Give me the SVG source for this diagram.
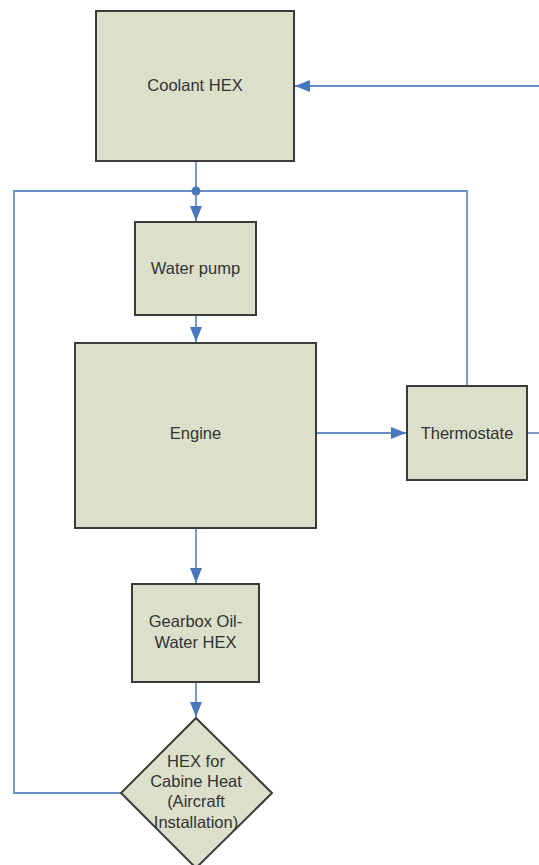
<svg xmlns="http://www.w3.org/2000/svg" width="539" height="865" viewBox="0 0 539 865">
<style>
.box{fill:#dcdfc9;stroke:#3b3b3b;stroke-width:2}
.lbl{font-family:"Liberation Sans",Arial,sans-serif;font-size:16.5px;fill:#333333;text-anchor:middle}
.wire{fill:none;stroke:#6a8fc4;stroke-width:1.8}
</style>
<defs>
<marker id="arr" markerWidth="16" markerHeight="12" refX="15" refY="6" orient="auto" markerUnits="userSpaceOnUse">
<path d="M0,0 L15,6 L0,12 Z" fill="#4877bd"/>
</marker>
</defs>
<rect width="539" height="865" fill="#ffffff"/>
<g id="connectors">
<line class="wire" x1="539" y1="86" x2="295" y2="86" marker-end="url(#arr)"/>
<line class="wire" x1="196" y1="161" x2="196" y2="221" marker-end="url(#arr)"/>
<line class="wire" x1="196" y1="315" x2="196" y2="342" marker-end="url(#arr)"/>
<line class="wire" x1="196" y1="528" x2="196" y2="583" marker-end="url(#arr)"/>
<line class="wire" x1="196" y1="682" x2="196" y2="717" marker-end="url(#arr)"/>
<line class="wire" x1="316" y1="433" x2="406" y2="433" marker-end="url(#arr)"/>
<line class="wire" x1="527" y1="433" x2="539" y2="433"/>
<polyline class="wire" points="121,793 14,793 14,191 467,191 467,386"/>
<circle cx="196" cy="191" r="4.5" fill="#4877bd"/>
</g>
<g id="coolant-hex">
<rect class="box" x="96" y="11" width="198" height="150"/>
<text class="lbl" x="195" y="91">Coolant HEX</text>
</g>
<g id="water-pump">
<rect class="box" x="135" y="222" width="121" height="93"/>
<text class="lbl" x="195.5" y="274">Water pump</text>
</g>
<g id="engine">
<rect class="box" x="75" y="343" width="241" height="185"/>
<text class="lbl" x="195.5" y="439">Engine</text>
</g>
<g id="thermostate">
<rect class="box" x="407" y="386" width="120" height="94"/>
<text class="lbl" x="467" y="439">Thermostate</text>
</g>
<g id="gearbox-hex">
<rect class="box" x="132" y="584" width="127" height="98"/>
<text class="lbl" x="195.5" y="627">Gearbox Oil-</text>
<text class="lbl" x="195.5" y="648">Water HEX</text>
</g>
<g id="cabine-hex">
<polygon class="box" points="196,718 272,793 196,868 121,793"/>
<text class="lbl" x="196" y="767">HEX for</text>
<text class="lbl" x="196" y="787">Cabine Heat</text>
<text class="lbl" x="196" y="807">(Aircraft</text>
<text class="lbl" x="196" y="828">Installation)</text>
</g>
</svg>
